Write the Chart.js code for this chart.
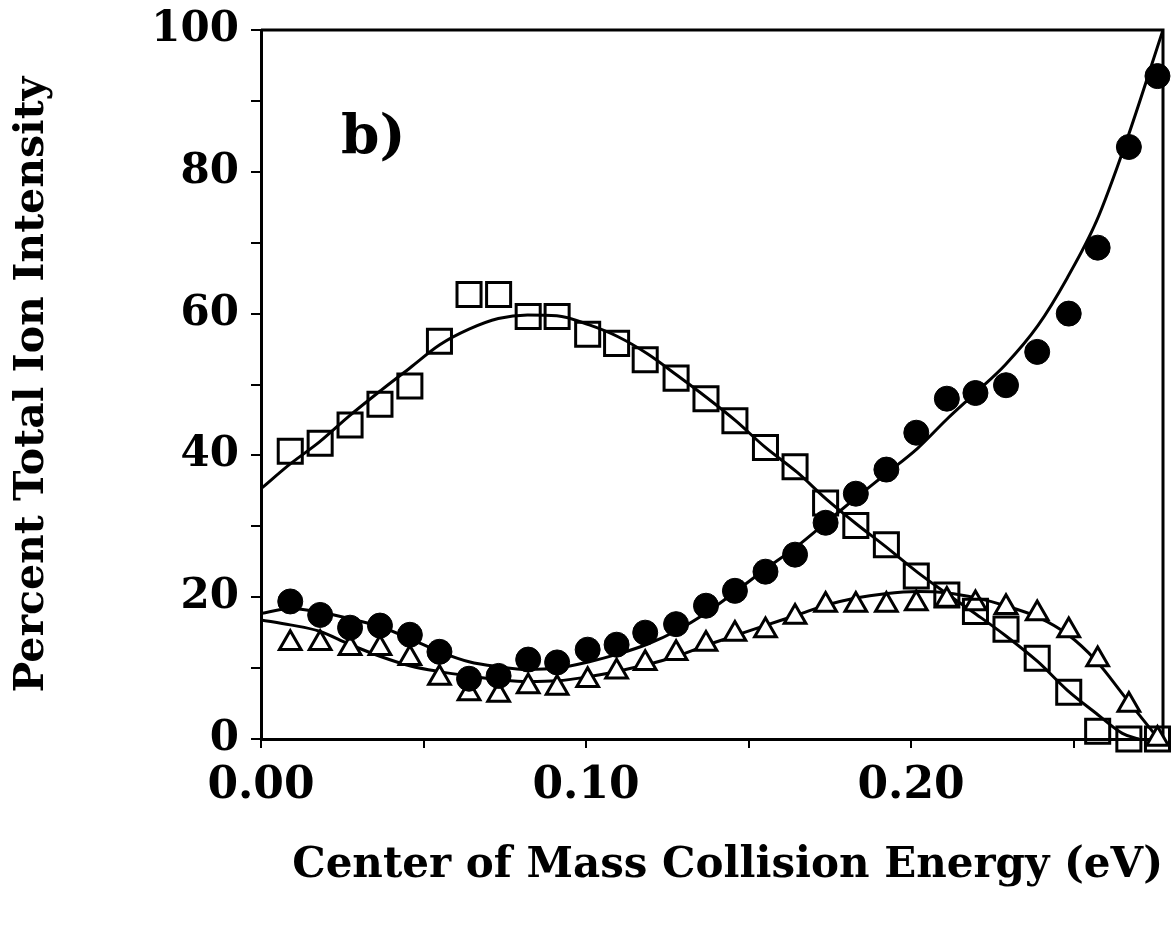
<!DOCTYPE html>
<html>
<head>
<meta charset="utf-8">
<title>Percent Total Ion Intensity</title>
<script src="https://cdn.jsdelivr.net/npm/chart.js@4.4.0/dist/chart.umd.min.js"></script>
<style>
  body { margin: 0; background: #fff; }
  canvas { display: block; }
</style>
</head>
<body>
<canvas id="ionChart" width="1176" height="925"></canvas>
<script>
// center of mass collision energy (eV) of the measured points
const energy = [0.0090, 0.0182, 0.0274, 0.0366, 0.0458, 0.0549, 0.0640, 0.0731, 0.0822, 0.0911,
                0.1005, 0.1094, 0.1182, 0.1277, 0.1369, 0.1458, 0.1552, 0.1643, 0.1737, 0.1830,
                0.1924, 0.2016, 0.2110, 0.2198, 0.2292, 0.2388, 0.2485, 0.2574, 0.2670, 0.2758];

// percent total ion intensity, one list per product
const squares   = [40.6, 41.7, 44.3, 47.2, 49.8, 56.1, 62.7, 62.7, 59.6, 59.6,
                   57.1, 55.8, 53.5, 50.9, 48.0, 44.9, 41.1, 38.4, 33.3, 30.1,
                   27.4, 23.0, 20.3, 18.0, 15.5, 11.4, 6.6, 1.1, 0.0, 0.0];
const circles   = [19.4, 17.5, 15.7, 16.0, 14.7, 12.3, 8.5, 8.9, 11.2, 10.8,
                   12.6, 13.3, 15.0, 16.2, 18.8, 20.9, 23.6, 26.0, 30.5, 34.6,
                   38.0, 43.2, 48.0, 48.8, 49.9, 54.6, 60.0, 69.3, 83.5, 93.5];
const triangles = [13.5, 13.5, 12.8, 12.8, 11.4, 8.6, 6.4, 6.2, 7.4, 7.2,
                   8.3, 9.5, 10.7, 12.1, 13.4, 14.8, 15.3, 17.2, 18.9, 18.9,
                   18.9, 19.1, 19.6, 19.1, 18.6, 17.7, 15.3, 11.2, 4.8, 0.0];

// fitted curves
const squareFitX = [0, 0.009, 0.018, 0.027, 0.037, 0.046, 0.055, 0.064, 0.073, 0.082, 0.091,
                    0.101, 0.110, 0.119, 0.128, 0.137, 0.146, 0.155, 0.165, 0.174, 0.183,
                    0.192, 0.202, 0.211, 0.220, 0.229, 0.239, 0.248, 0.257, 0.265, 0.270];
const squareFitY = [35.3, 38.8, 41.9, 45.5, 49.2, 52.4, 55.6, 57.8, 59.3, 59.8, 59.7,
                    58.4, 56.7, 54.3, 51.3, 48.2, 44.9, 41.2, 37.6, 33.8, 30.4,
                    27.2, 23.5, 20.5, 17.6, 14.6, 10.9, 6.9, 3.6, 0.8, 0];

const circleFitX = [0, 0.009, 0.018, 0.027, 0.037, 0.046, 0.055, 0.064, 0.073, 0.082, 0.091,
                    0.101, 0.110, 0.119, 0.128, 0.137, 0.146, 0.155, 0.165, 0.174, 0.183,
                    0.192, 0.202, 0.211, 0.220, 0.229, 0.239, 0.248, 0.257, 0.266, 0.2775];
const circleFitY = [17.7, 18.4, 17.9, 17.0, 15.8, 14.1, 12.3, 10.9, 10.2, 9.8, 10.0,
                    10.9, 12.0, 13.4, 15.3, 17.8, 20.8, 23.9, 27.2, 30.6, 34.0,
                    37.3, 41.0, 45.1, 48.9, 52.8, 58.3, 65.0, 73.0, 84.0, 100];

const triangleFitX = [0, 0.009, 0.018, 0.027, 0.037, 0.046, 0.055, 0.064, 0.073, 0.082, 0.091,
                      0.101, 0.110, 0.119, 0.128, 0.137, 0.146, 0.155, 0.165, 0.174, 0.183,
                      0.192, 0.202, 0.211, 0.220, 0.229, 0.239, 0.248, 0.257, 0.266, 0.2756];
const triangleFitY = [16.8, 16.1, 15.2, 13.4, 11.6, 10.3, 9.5, 8.9, 8.4, 8.1, 8.2,
                      8.8, 9.6, 10.5, 11.7, 13.2, 14.6, 16.0, 17.5, 18.9, 19.9,
                      20.5, 20.8, 20.6, 19.9, 18.8, 17.2, 14.8, 11.0, 5.8, 0.3];

// tick labels shown on the axes
const xTickLabels = ["0.00", "0.10", "0.20"];
const yTickLabels = ["0", "20", "40", "60", "80", "100"];

const FONT = "'DejaVu Serif', 'Liberation Serif', serif";

function points(xs, ys) {
    return xs.map((x, i) => ({ x: x, y: ys[i] }));
}

// box lines on top and right plus the "b)" panel label
const framePlugin = {
    id: "frame",
    beforeDatasetsDraw(chart) {
        const { ctx, chartArea: a } = chart;
        ctx.save();
        ctx.strokeStyle = "#000";
        ctx.lineWidth = 3;
        ctx.beginPath();
        ctx.moveTo(a.left, a.top);
        ctx.lineTo(a.right, a.top);
        ctx.lineTo(a.right, a.bottom);
        ctx.stroke();
        ctx.fillStyle = "#000";
        ctx.font = "bold 55px " + FONT;
        ctx.textBaseline = "alphabetic";
        ctx.fillText("b)", 341, 153);
        ctx.restore();
    }
};

const lineStyle = {
    showLine: true,
    pointRadius: 0,
    borderColor: "#000",
    borderWidth: 3,
    cubicInterpolationMode: "monotone",
    order: 5
};

const ctx = document.getElementById("ionChart").getContext("2d");
const ionChart = new Chart(ctx, {
    type: "scatter",
    data: {
        datasets: [
            Object.assign({ label: "square fit", data: points(squareFitX, squareFitY) }, lineStyle),
            Object.assign({ label: "circle fit", data: points(circleFitX, circleFitY) }, lineStyle),
            Object.assign({ label: "triangle fit", data: points(triangleFitX, triangleFitY) }, lineStyle),
            {
                label: "triangles",
                data: points(energy, triangles),
                pointStyle: "triangle",
                pointRadius: 12.5,
                backgroundColor: "#fff",
                borderColor: "#000",
                borderWidth: 3,
                clip: false,
                order: 3
            },
            {
                label: "squares",
                data: points(energy, squares),
                pointStyle: "rect",
                pointRadius: 17,
                backgroundColor: "rgba(255,255,255,0)",
                borderColor: "#000",
                borderWidth: 3,
                clip: false,
                order: 2
            },
            {
                label: "circles",
                data: points(energy, circles),
                pointStyle: "circle",
                pointRadius: 12.5,
                backgroundColor: "#000",
                borderColor: "#000",
                borderWidth: 1,
                clip: false,
                order: 1
            }
        ]
    },
    options: {
        responsive: false,
        animation: false,
        events: [],
        layout: { autoPadding: false, padding: { top: 30, right: 13, left: 0, bottom: 0 } },
        plugins: {
            legend: { display: false },
            tooltip: { enabled: false }
        },
        scales: {
            x: {
                type: "linear",
                min: 0,
                max: 0.2775,
                border: { color: "#000", width: 3 },
                grid: { drawOnChartArea: false, tickLength: 9, color: "#000", lineWidth: 2 },
                ticks: {
                    stepSize: 0.05,
                    includeBounds: false,
                    autoSkip: false,
                    maxRotation: 0,
                    padding: 12,
                    color: "#000",
                    font: { family: FONT, size: 44, weight: "bold" },
                    callback: function (value) {
                        const label = value.toFixed(2);
                        return xTickLabels.includes(label) ? label : "";
                    }
                },
                title: {
                    display: true,
                    text: "Center of Mass Collision Energy (eV)",
                    align: "end",
                    color: "#000",
                    font: { family: FONT, size: 42, weight: "bold" },
                    padding: { top: 0, bottom: 34 }
                },
                afterFit: function (scale) {
                    scale.height = 186;
                    scale.paddingLeft = 0;
                    scale.paddingRight = 0;
                }
            },
            y: {
                type: "linear",
                min: 0,
                max: 100,
                border: { color: "#000", width: 3 },
                grid: { drawOnChartArea: false, tickLength: 10, color: "#000", lineWidth: 2 },
                ticks: {
                    stepSize: 10,
                    padding: 12,
                    color: "#000",
                    font: { family: FONT, size: 42, weight: "bold" },
                    callback: function (value) {
                        const label = String(Math.round(value));
                        return yTickLabels.includes(label) ? label : "";
                    }
                },
                title: {
                    display: true,
                    text: "Percent Total Ion Intensity",
                    color: "#000",
                    font: { family: FONT, size: 41, weight: "bold" },
                    padding: { top: 8, bottom: 0 }
                },
                afterFit: function (scale) {
                    scale.width = 261;
                    scale.paddingTop = 0;
                    scale.paddingBottom = 0;
                }
            }
        }
    },
    plugins: [framePlugin]
});
</script>
</body>
</html>
